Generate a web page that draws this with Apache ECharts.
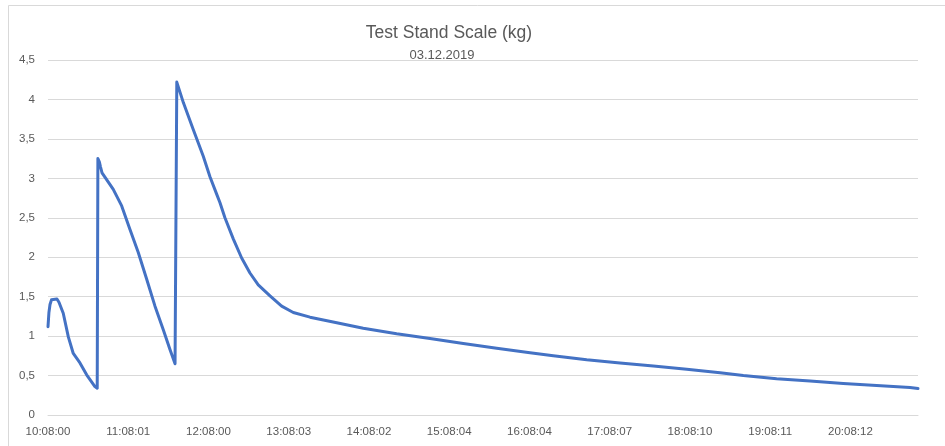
<!DOCTYPE html>
<html>
<head>
<meta charset="utf-8">
<script src="https://cdn.jsdelivr.net/npm/echarts@6/dist/echarts.min.js"></script>
<style>
html,body{margin:0;padding:0;background:#fff;}
#chart{width:945px;height:446px;}
</style>
</head>
<body>
<div id="chart"></div>
<script>
// Minutes elapsed since 10:08:00
var minutes = [
  0, 0.7, 1.5, 2.6, 3.7, 6.7, 8.2, 11.4, 15.2, 18.9, 23.9, 28.9, 35.1, 36.8,
  37.3, 38.4, 39.2, 40.4, 48.8, 55.1, 61.3, 67.5, 73.8, 80.0, 86.2, 91.2, 95.0, 95.9,
  96.3, 101.2, 108.6, 116.1, 121.1, 126.1, 128.6, 132.3, 138.6, 144.8, 151.0, 157.2,
  166.0, 174.7, 183.4, 195.9, 215.9, 235.7, 260.7, 285.6, 310.5, 335.5, 360.4,
  377.8, 402.8, 427.7, 452.6, 477.6, 502.5, 519.9, 544.8, 569.8, 594.6, 619.6,
  644.5, 650.5
];
// Scale reading (kg)
var weights = [
  1.12, 1.30, 1.40, 1.46, 1.47, 1.47, 1.43, 1.29, 0.99, 0.78, 0.66, 0.51, 0.36, 0.34,
  3.25, 3.21, 3.15, 3.07, 2.86, 2.65, 2.35, 2.06, 1.72, 1.38, 1.08, 0.83, 0.65, 0.63,
  4.22, 3.96, 3.62, 3.28, 3.02, 2.80, 2.69, 2.50, 2.23, 1.99, 1.80, 1.65,
  1.51, 1.38, 1.30, 1.24, 1.17, 1.10, 1.03, 0.97, 0.905, 0.845, 0.79,
  0.75, 0.70, 0.66, 0.62, 0.58, 0.537, 0.50, 0.46, 0.43, 0.40, 0.373,
  0.348, 0.335
];
var xTickLabels = ['10:08:00','11:08:01','12:08:00','13:08:03','14:08:02','15:08:04',
  '16:08:04','17:08:07','18:08:10','19:08:11','20:08:12'];
var titleText = 'Test Stand Scale (kg)';
var subtitleText = '03.12.2019';

var points = minutes.map(function(m, i){ return [m, weights[i]]; });

var chart = echarts.init(document.getElementById('chart'), null, {renderer:'canvas'});
var FONT = 'Liberation Sans';
chart.setOption({
  animation: false,
  backgroundColor: '#ffffff',
  graphic: [{
    type: 'rect', silent: true, z: -1,
    shape: {x: 8.5, y: 5.5, width: 1000, height: 500},
    style: {fill: 'none', stroke: '#d9d9d9', lineWidth: 1}
  }],
  title: [{
    text: titleText, left: 444, top: 19, textAlign: 'center',
    textStyle: {fontFamily: FONT, fontSize: 17.5, fontWeight: 'normal', color: '#595959'}
  },{
    text: subtitleText, left: 437, top: 44, textAlign: 'center',
    textStyle: {fontFamily: FONT, fontSize: 13, fontWeight: 'normal', color: '#595959'}
  }],
  grid: {left: 48, right: 27, top: 60, bottom: 31, containLabel: false},
  xAxis: {
    type: 'value', min: 0, max: 650.5, interval: 60,
    axisLine: {show: true, lineStyle: {color: '#d9d9d9', width: 1}},
    axisTick: {show: false},
    splitLine: {show: false},
    axisLabel: {
      show: true, margin: 11, color: '#595959', fontFamily: FONT, fontSize: 11.5,
      showMaxLabel: false,
      formatter: function(v){
        var i = Math.round(v / 60);
        return (Math.abs(v - i * 60) < 1e-6 && xTickLabels[i]) ? xTickLabels[i] : '';
      }
    }
  },
  yAxis: {
    type: 'value', min: 0, max: 4.5, interval: 0.5,
    axisLine: {show: false}, axisTick: {show: false},
    splitLine: {show: true, lineStyle: {color: '#d9d9d9', width: 1}},
    axisLabel: {
      margin: 13, color: '#595959', fontFamily: FONT, fontSize: 11.5,
      formatter: function(v){ return String(v).replace('.', ','); }
    }
  },
  series: [{
    type: 'line', data: points, showSymbol: false, smooth: false,
    lineStyle: {color: '#4472C4', width: 3, cap: 'round', join: 'round'},
    itemStyle: {color: '#4472C4'}
  }]
});
</script>
</body>
</html>
